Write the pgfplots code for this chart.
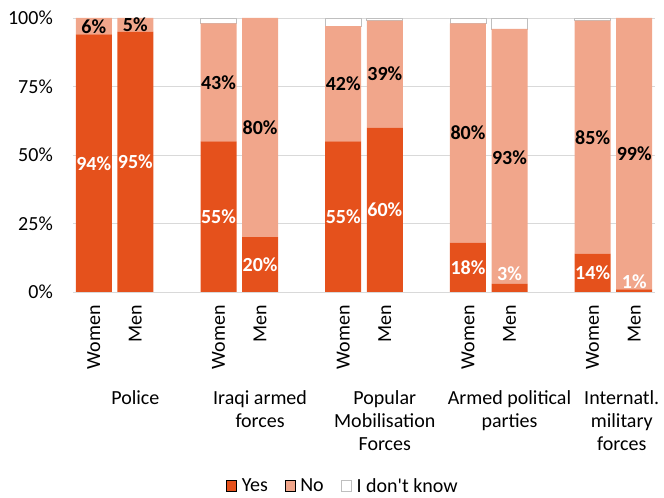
\documentclass[border=0pt]{standalone}
\usepackage{fontspec}
\setmainfont{Carlito}
\usepackage{pgfplots}
\pgfplotsset{compat=1.18}
\definecolor{yescol}{HTML}{E5511C}
\definecolor{nocol}{HTML}{F1A68B}
\definecolor{gridc}{HTML}{D9D9D9}
\definecolor{dkedge}{HTML}{BFBFBF}
\newcommand{\f}{\fontsize{20}{23}\selectfont}
\begin{document}
\begin{tikzpicture}
\pgfplotsset{base/.style={scale only axis, width=582pt, height=274pt, xmin=-0.5, xmax=13.5, ymin=0, ymax=100}}
\begin{axis}[base, ybar stacked, bar width=36pt, clip=false,
  axis line style={draw=none}, ymajorgrids, grid style={gridc, line width=0.9pt},
  major tick length=0pt,
  ytick={0,25,50,75,100}, yticklabels={0\%,25\%,50\%,75\%,100\%},
  yticklabel style={font=\f, inner sep=0pt}, yticklabel shift=20pt,
  xtick={0,1,3,4,6,7,9,10,12,13},
  xticklabels={Women,Men,Women,Men,Women,Men,Women,Men,Women,Men},
  xticklabel style={font=\f, rotate=90, anchor=east, inner sep=0pt}, xticklabel shift=13pt,
  legend style={at={(0.464,0)}, anchor=center, yshift=-194pt, draw=none, font=\f, legend columns=3,
    /tikz/every odd column/.append style={column sep=3pt},
    /tikz/every even column/.append style={column sep=15pt}},
  legend image code/.code={\draw[#1] (0pt,-5.5pt) rectangle (10pt,5.5pt);},
]
\addplot[fill=yescol, draw=none] coordinates {(0,94)(1,95)(3,55)(4,20)(6,55)(7,60)(9,18)(10,3)(12,14)(13,1)};
\addlegendentry{Yes}
\addplot[fill=nocol, draw=none] coordinates {(0,6)(1,5)(3,43)(4,80)(6,42)(7,39)(9,80)(10,93)(12,85)(13,99)};
\addlegendentry{No}
\addplot[fill=white, draw=dkedge, line width=0.8pt] coordinates {(0,0)(1,0)(3,2)(4,0)(6,3)(7,1)(9,2)(10,4)(12,1)(13,0)};
\addlegendentry{I don\textquotesingle t know}
\node[anchor=north, align=center, font=\f, inner sep=0pt, yshift=-98pt] at (axis cs:1,0) {Police};
\node[anchor=north, align=center, font=\f, inner sep=0pt, yshift=-98pt] at (axis cs:4,0) {Iraqi armed\\forces};
\node[anchor=north, align=center, font=\f, inner sep=0pt, yshift=-98pt] at (axis cs:7,0) {Popular\\Mobilisation\\Forces};
\node[anchor=north, align=center, font=\f, inner sep=0pt, yshift=-98pt] at (axis cs:10,0) {Armed political\\parties};
\node[anchor=north, align=center, font=\f, inner sep=0pt, yshift=-98pt] at (axis cs:12.7,0) {Internatl.\\military\\forces};
\end{axis}
\begin{axis}[base, hide axis]
\addplot[draw=none, mark=none, nodes near coords, point meta=explicit symbolic,
  nodes near coords style={text=white, font=\f\bfseries, anchor=center, inner sep=0pt}]
  coordinates {(0,47)[94\%] (1,47.5)[95\%] (3,27.5)[55\%] (4,10)[20\%] (6,27.5)[55\%] (7,30)[60\%] (9,9)[18\%] (10,6.6)[3\%] (12,7)[14\%] (13,3.8)[1\%]};
\addplot[draw=none, mark=none, nodes near coords, point meta=explicit symbolic,
  nodes near coords style={text=black, font=\f\bfseries, anchor=center, inner sep=0pt}]
  coordinates {(0,97)[6\%] (1,97.5)[5\%] (3,76.5)[43\%] (4,60)[80\%] (6,76)[42\%] (7,79.5)[39\%] (9,58)[80\%] (10,49)[93\%] (12,56.5)[85\%] (13,50.5)[99\%]};
\end{axis}
\path (0,0) ++(-73pt,-205pt) rectangle ++(664pt,497pt);
\end{tikzpicture}
\end{document}
